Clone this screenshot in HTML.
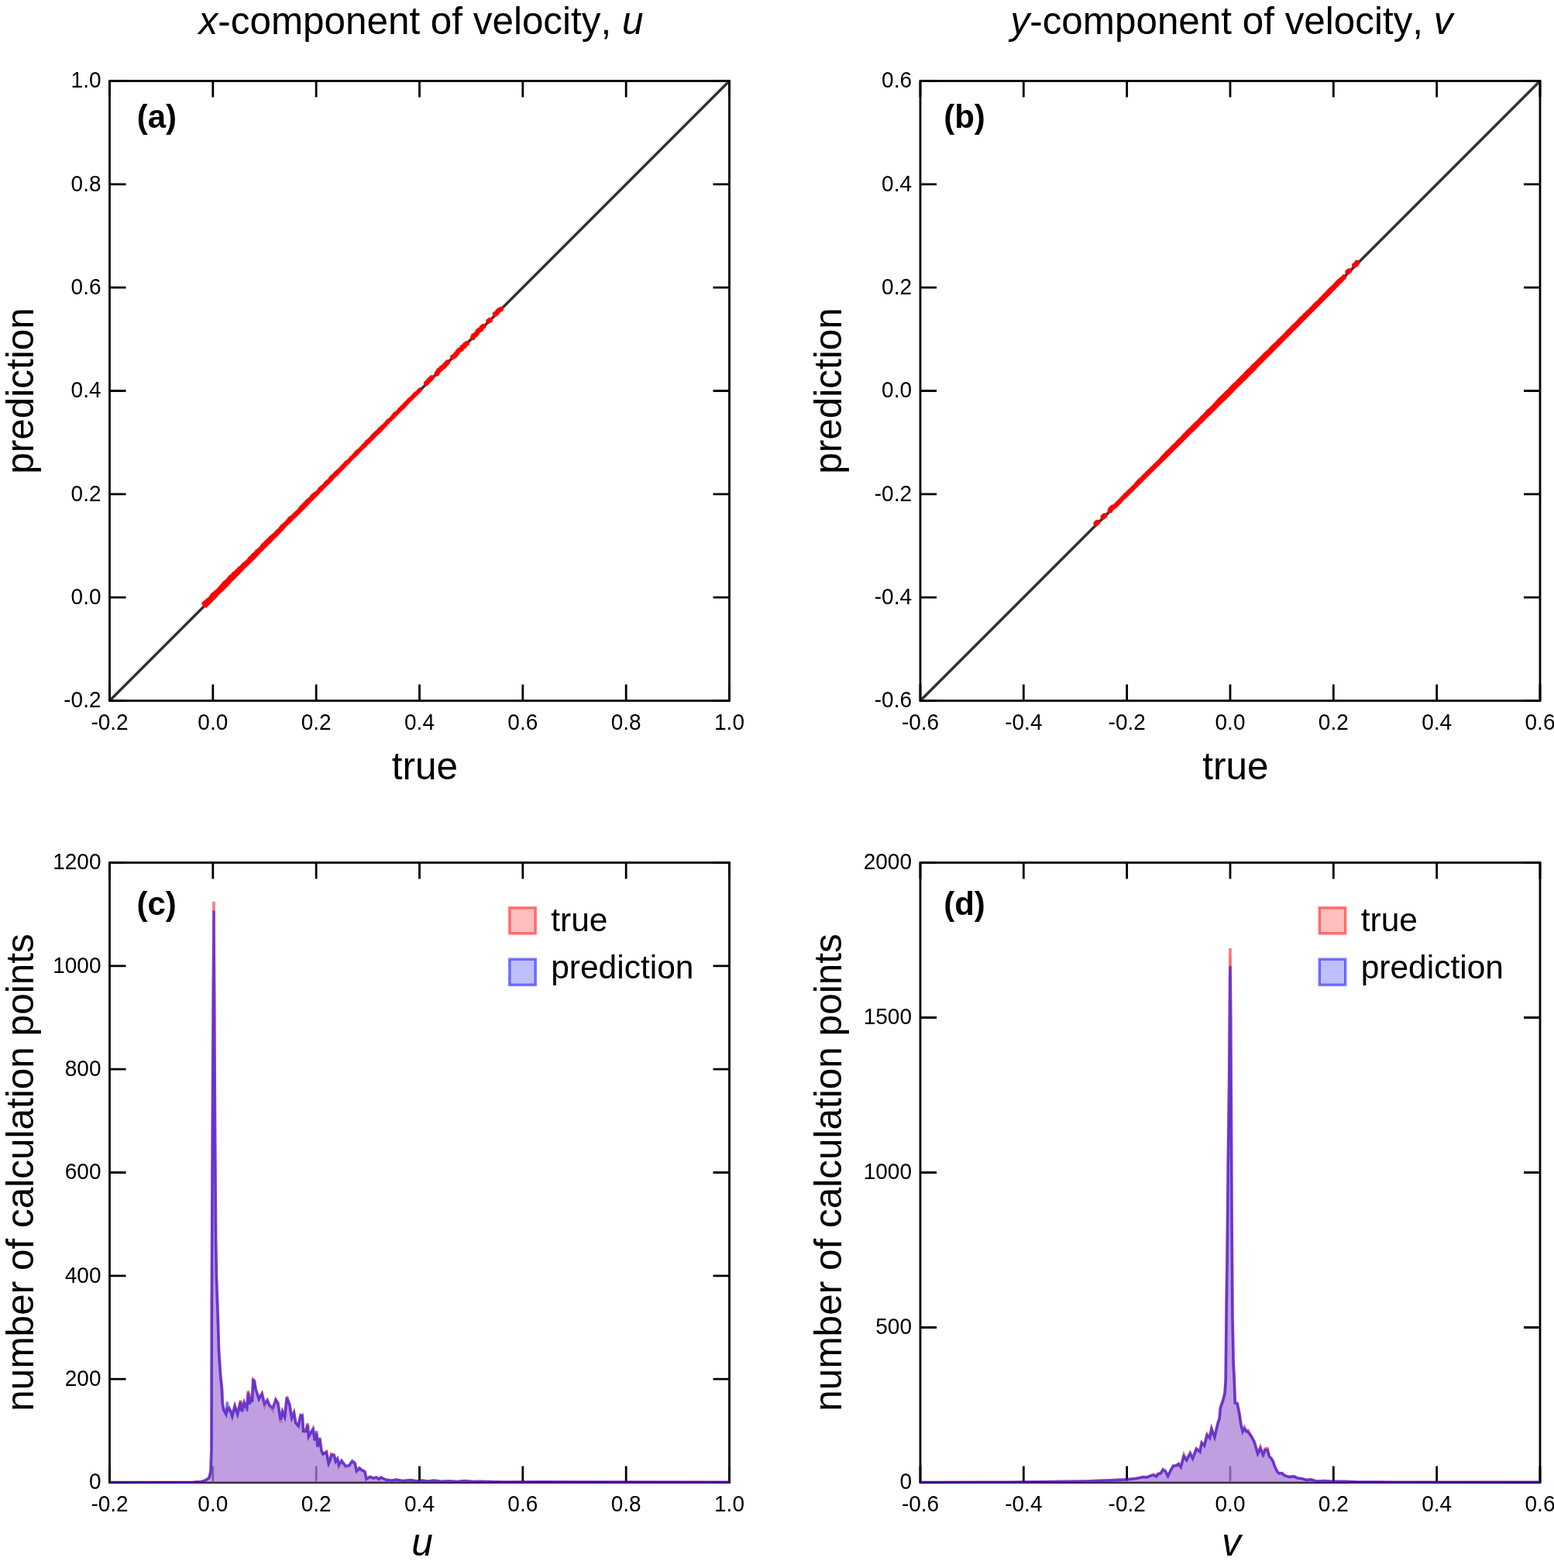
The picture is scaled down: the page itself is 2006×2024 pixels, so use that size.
<!DOCTYPE html><html><head><meta charset="utf-8"><title>velocity</title><style>html,body{margin:0;padding:0;background:#fff;overflow:hidden}svg{display:block;font-kerning:none}</style></head><body>
<svg xmlns="http://www.w3.org/2000/svg" width="2006" height="2024" viewBox="0 0 2006 2024" font-family='"Liberation Sans", Arial, Helvetica, sans-serif'>
<rect width="2006" height="2024" fill="#fff"/>
<text x="543.50" y="44.00" text-anchor="middle" font-size="49.4"><tspan font-style="italic">x</tspan>-component of velocity, <tspan font-style="italic">u</tspan></text>
<text x="1590.00" y="44.00" text-anchor="middle" font-size="49.4"><tspan font-style="italic">y</tspan>-component of velocity, <tspan font-style="italic">v</tspan></text>
<path d="M141.50 904.50V883.50M141.50 104.50V125.50M274.83 904.50V883.50M274.83 104.50V125.50M408.17 904.50V883.50M408.17 104.50V125.50M541.50 904.50V883.50M541.50 104.50V125.50M674.83 904.50V883.50M674.83 104.50V125.50M808.17 904.50V883.50M808.17 104.50V125.50M941.50 904.50V883.50M941.50 104.50V125.50M141.50 904.50H162.50M941.50 904.50H920.50M141.50 771.17H162.50M941.50 771.17H920.50M141.50 637.83H162.50M941.50 637.83H920.50M141.50 504.50H162.50M941.50 504.50H920.50M141.50 371.17H162.50M941.50 371.17H920.50M141.50 237.83H162.50M941.50 237.83H920.50M141.50 104.50H162.50M941.50 104.50H920.50" stroke="#000" stroke-width="2.8" fill="none"/>
<path d="M141.50 904.50L941.50 104.50" stroke="#333" stroke-width="3.5"/>
<path d="M259.98 778.98 L261.18 777.18 L262.79 775.79 L264.57 774.57 L265.94 772.94 L267.73 771.73 L269.41 770.41 L270.61 768.61 L271.73 766.73 L273.23 765.23 L275.07 764.07 L276.52 762.52 L278.23 761.23 L279.96 759.96 L281.32 758.32 L282.69 756.69 L284.12 755.12 L285.61 753.61 L286.74 751.74 L288.14 750.14 L289.93 748.93 L291.63 747.63 L292.94 745.94 L294.27 744.27 L295.59 742.59 L297.64 741.64 L298.86 739.86 L300.15 738.15 L302.14 737.14 L303.47 735.47 L305.33 734.33 L306.46 732.46 L308.32 731.32 L310.05 730.05 L311.22 728.22 L312.69 726.69 L314.42 725.42 L316.11 724.11 L317.74 722.74 L319.25 721.25 L320.25 719.25 L321.91 717.91 L323.57 716.57 L324.74 714.74 L326.55 713.55 L328.17 712.17 L329.36 710.36 L331.01 709.01 L332.74 707.74 L334.28 706.28 L335.72 704.72 L336.79 702.79 L338.30 701.30 L340.08 700.08 L341.25 698.25 L343.01 697.01 L344.33 695.33 L346.10 694.10 L347.30 692.30 L348.93 690.93 L350.78 689.78 L352.35 688.35 L353.89 686.89 L355.18 685.18 L356.85 683.85 L358.53 682.53 L359.80 680.80 L361.13 679.13 L362.33 677.33 L364.26 676.26 L365.74 674.74 L367.41 673.41 L368.74 671.74 L370.29 670.29 L371.40 668.40 L372.87 666.87 L374.73 665.73 L376.53 664.53 L377.75 662.75 L379.55 661.55 L380.92 659.92 L382.45 658.45 L384.14 657.14 L385.31 655.31 L386.62 653.62 L387.97 651.97 L389.68 650.68 L390.94 648.94 L392.62 647.62 L393.93 645.93 L395.49 644.49 L397.05 643.05 L398.94 641.94 L400.05 640.05 L401.50 638.50 L402.96 636.96 L404.65 635.65 L406.50 634.50 L408.25 633.25 L409.59 631.59 L410.86 629.86 L412.27 628.27 L413.97 626.97 L415.55 625.55 L417.18 624.18 L418.27 622.27 L419.85 620.85 L421.47 619.47 L423.14 618.14 L424.33 616.33 L425.59 614.59 L427.15 613.15 L428.99 611.99 L430.23 610.23 L431.65 608.65 L433.40 607.40 L434.94 605.94 L436.62 604.62 L437.96 602.96 L439.57 601.57 L440.68 599.68 L442.57 598.57 L443.76 596.76 L445.19 595.19 L446.92 593.92 L448.76 592.76 L450.17 591.17 L451.36 589.36 L453.15 588.15 L454.49 586.49 L455.89 584.89 L457.22 583.22 L458.70 581.70 L460.33 580.33 L462.23 579.23 L463.49 577.49 L465.15 576.15 L466.46 574.46 L467.90 572.90 L469.52 571.52 L470.74 569.74 L472.06 568.06 L474.00 567.00 L475.43 565.43 L477.06 564.06 L478.29 562.29 L479.59 560.59 L481.17 559.17 L482.67 557.67 L484.23 556.23 L486.06 555.06 L487.23 553.23 L488.84 551.84 L490.55 550.55 L491.82 548.82 L493.71 547.71 L495.12 546.12 L496.61 544.61 L497.89 542.89 L499.27 541.27 L501.01 540.01 L502.79 538.79 L504.20 537.20 L505.43 535.43 L506.70 533.70 L508.06 532.06 L509.97 530.97 L511.67 529.67 L513.06 528.06 L514.35 526.35 L516.09 525.09 L517.37 523.37 L519.18 522.18 L520.34 520.34 L521.91 518.91 L523.48 517.48 L524.98 515.98 L526.23 514.23 L527.97 512.97 L529.50 511.50 L530.94 509.94 L532.50 508.50 L533.76 506.76 L535.58 505.58 L537.38 504.38 L538.58 502.58 L540.14 501.14 L541.87 499.87 L545.56 503.56 L544.03 505.03 L542.65 506.65 L541.02 508.02 L539.56 509.56 L538.10 511.10 L536.42 512.42 L534.90 513.90 L533.56 515.56 L532.08 517.08 L530.44 518.44 L528.87 519.87 L527.53 521.53 L526.02 523.02 L524.67 524.67 L523.25 526.25 L521.68 527.68 L520.04 529.04 L518.60 530.60 L517.10 532.10 L515.61 533.61 L514.01 535.01 L512.45 536.45 L511.11 538.11 L509.64 539.64 L508.07 541.07 L506.44 542.44 L505.05 544.05 L503.36 545.36 L501.89 546.89 L500.51 548.51 L499.22 550.22 L497.66 551.66 L496.23 553.23 L494.91 554.91 L493.38 556.38 L491.90 557.90 L490.33 559.33 L488.74 560.74 L487.20 562.20 L485.58 563.58 L484.22 565.22 L482.80 566.80 L481.24 568.24 L479.78 569.78 L478.15 571.15 L476.68 572.68 L475.08 574.08 L473.78 575.78 L472.19 577.19 L470.58 578.58 L469.02 580.02 L467.51 581.51 L466.09 583.09 L464.55 584.55 L463.15 586.15 L461.80 587.80 L460.13 589.13 L458.50 590.50 L456.91 591.91 L455.47 593.47 L453.98 594.98 L452.60 596.60 L451.24 598.24 L449.60 599.60 L447.98 600.98 L446.58 602.58 L445.26 604.26 L443.82 605.82 L442.19 607.19 L440.67 608.67 L439.18 610.18 L437.76 611.76 L436.47 613.47 L434.86 614.86 L433.24 616.24 L431.74 617.74 L430.33 619.33 L428.94 620.94 L427.33 622.33 L425.91 623.91 L424.41 625.41 L422.77 626.77 L421.18 628.18 L419.80 629.80 L418.21 631.21 L416.94 632.94 L415.30 634.30 L413.80 635.80 L412.45 637.45 L410.99 638.99 L409.47 640.47 L407.89 641.89 L406.40 643.40 L405.01 645.01 L403.43 646.43 L401.92 647.92 L400.42 649.42 L399.04 651.04 L397.62 652.62 L396.13 654.13 L394.61 655.61 L393.16 657.16 L391.61 658.61 L390.15 660.15 L388.59 661.59 L387.19 663.19 L385.60 664.60 L384.10 666.10 L382.63 667.63 L381.01 669.01 L379.33 670.33 L378.02 672.02 L376.52 673.52 L374.97 674.97 L373.25 676.25 L371.80 677.80 L370.26 679.26 L368.86 680.86 L367.40 682.40 L366.01 684.01 L364.63 685.63 L363.00 687.00 L361.65 688.65 L360.10 690.10 L358.76 691.76 L357.21 693.21 L355.71 694.71 L354.04 696.04 L352.75 697.75 L351.31 699.31 L349.71 700.71 L348.05 702.05 L346.69 703.69 L345.07 705.07 L343.75 706.75 L342.12 708.12 L340.63 709.63 L339.15 711.15 L337.60 712.60 L336.02 714.02 L334.66 715.66 L333.25 717.25 L331.93 718.93 L330.30 720.30 L328.79 721.79 L327.40 723.40 L325.80 724.80 L324.18 726.18 L322.76 727.76 L321.32 729.32 L319.77 730.77 L318.14 732.14 L316.58 733.58 L315.12 735.12 L313.75 736.75 L312.36 738.36 L310.74 739.74 L309.28 741.28 L307.87 742.87 L306.31 744.31 L304.83 745.83 L303.32 747.32 L301.95 748.95 L300.30 750.30 L298.80 751.80 L297.29 753.29 L295.95 754.95 L294.61 756.61 L293.11 758.11 L291.44 759.44 L290.06 761.06 L288.54 762.54 L287.00 764.00 L285.34 765.34 L283.77 766.77 L282.27 768.27 L280.88 769.88 L279.59 771.59 L278.10 773.10 L276.40 774.40 L275.11 776.11 L273.50 777.50 L272.12 779.12 L270.53 780.53 L269.04 782.04 L267.52 783.52 L266.04 785.04 Z" fill="#ff0000"/><path d="M261.33 780.60a3.30 3.30 0 1 0 6.60 0a3.30 3.30 0 1 0 -6.60 0M546.93 494.80a3.30 3.30 0 1 0 6.60 0a3.30 3.30 0 1 0 -6.60 0M548.68 492.95a3.30 3.30 0 1 0 6.60 0a3.30 3.30 0 1 0 -6.60 0M550.36 491.02a3.30 3.30 0 1 0 6.60 0a3.30 3.30 0 1 0 -6.60 0M552.33 489.40a3.30 3.30 0 1 0 6.60 0a3.30 3.30 0 1 0 -6.60 0M553.98 487.44a3.30 3.30 0 1 0 6.60 0a3.30 3.30 0 1 0 -6.60 0M560.53 482.40a3.30 3.30 0 1 0 6.60 0a3.30 3.30 0 1 0 -6.60 0M561.96 480.23a3.30 3.30 0 1 0 6.60 0a3.30 3.30 0 1 0 -6.60 0M563.36 478.02a3.30 3.30 0 1 0 6.60 0a3.30 3.30 0 1 0 -6.60 0M565.41 476.47a3.30 3.30 0 1 0 6.60 0a3.30 3.30 0 1 0 -6.60 0M566.99 474.46a3.30 3.30 0 1 0 6.60 0a3.30 3.30 0 1 0 -6.60 0M569.46 473.33a3.30 3.30 0 1 0 6.60 0a3.30 3.30 0 1 0 -6.60 0M570.96 471.23a3.30 3.30 0 1 0 6.60 0a3.30 3.30 0 1 0 -6.60 0M572.95 469.62a3.30 3.30 0 1 0 6.60 0a3.30 3.30 0 1 0 -6.60 0M574.50 467.56a3.30 3.30 0 1 0 6.60 0a3.30 3.30 0 1 0 -6.60 0M581.07 460.94a3.30 3.30 0 1 0 6.60 0a3.30 3.30 0 1 0 -6.60 0M583.35 459.61a3.30 3.30 0 1 0 6.60 0a3.30 3.30 0 1 0 -6.60 0M584.97 457.64a3.30 3.30 0 1 0 6.60 0a3.30 3.30 0 1 0 -6.60 0M586.72 455.79a3.30 3.30 0 1 0 6.60 0a3.30 3.30 0 1 0 -6.60 0M587.98 453.45a3.30 3.30 0 1 0 6.60 0a3.30 3.30 0 1 0 -6.60 0M589.91 451.77a3.30 3.30 0 1 0 6.60 0a3.30 3.30 0 1 0 -6.60 0M592.22 450.49a3.30 3.30 0 1 0 6.60 0a3.30 3.30 0 1 0 -6.60 0M593.48 448.15a3.30 3.30 0 1 0 6.60 0a3.30 3.30 0 1 0 -6.60 0M595.84 446.91a3.30 3.30 0 1 0 6.60 0a3.30 3.30 0 1 0 -6.60 0M597.23 444.70a3.30 3.30 0 1 0 6.60 0a3.30 3.30 0 1 0 -6.60 0M599.45 443.32a3.30 3.30 0 1 0 6.60 0a3.30 3.30 0 1 0 -6.60 0M607.06 435.92a3.30 3.30 0 1 0 6.60 0a3.30 3.30 0 1 0 -6.60 0M608.12 433.39a3.30 3.30 0 1 0 6.60 0a3.30 3.30 0 1 0 -6.60 0M610.48 432.15a3.30 3.30 0 1 0 6.60 0a3.30 3.30 0 1 0 -6.60 0M612.28 430.34a3.30 3.30 0 1 0 6.60 0a3.30 3.30 0 1 0 -6.60 0M613.42 427.89a3.30 3.30 0 1 0 6.60 0a3.30 3.30 0 1 0 -6.60 0M615.32 426.18a3.30 3.30 0 1 0 6.60 0a3.30 3.30 0 1 0 -6.60 0M617.61 424.88a3.30 3.30 0 1 0 6.60 0a3.30 3.30 0 1 0 -6.60 0M618.84 422.51a3.30 3.30 0 1 0 6.60 0a3.30 3.30 0 1 0 -6.60 0M621.00 421.07a3.30 3.30 0 1 0 6.60 0a3.30 3.30 0 1 0 -6.60 0M627.28 414.55a3.30 3.30 0 1 0 6.60 0a3.30 3.30 0 1 0 -6.60 0M629.48 413.15a3.30 3.30 0 1 0 6.60 0a3.30 3.30 0 1 0 -6.60 0M635.76 405.63a3.30 3.30 0 1 0 6.60 0a3.30 3.30 0 1 0 -6.60 0M637.77 404.04a3.30 3.30 0 1 0 6.60 0a3.30 3.30 0 1 0 -6.60 0M639.34 402.00a3.30 3.30 0 1 0 6.60 0a3.30 3.30 0 1 0 -6.60 0M641.20 400.27a3.30 3.30 0 1 0 6.60 0a3.30 3.30 0 1 0 -6.60 0M643.50 398.97a3.30 3.30 0 1 0 6.60 0a3.30 3.30 0 1 0 -6.60 0" fill="#ff0000"/>
<rect x="141.50" y="104.50" width="800.00" height="800.00" fill="none" stroke="#000" stroke-width="2.8"/>
<g font-size="28"><text transform="translate(141.50 942.00) scale(1 1.055)" text-anchor="middle">-0.2</text><text transform="translate(274.83 942.00) scale(1 1.055)" text-anchor="middle">0.0</text><text transform="translate(408.17 942.00) scale(1 1.055)" text-anchor="middle">0.2</text><text transform="translate(541.50 942.00) scale(1 1.055)" text-anchor="middle">0.4</text><text transform="translate(674.83 942.00) scale(1 1.055)" text-anchor="middle">0.6</text><text transform="translate(808.17 942.00) scale(1 1.055)" text-anchor="middle">0.8</text><text transform="translate(941.50 942.00) scale(1 1.055)" text-anchor="middle">1.0</text><text transform="translate(130.50 913.40) scale(1 1.055)" text-anchor="end">-0.2</text><text transform="translate(130.50 780.07) scale(1 1.055)" text-anchor="end">0.0</text><text transform="translate(130.50 646.73) scale(1 1.055)" text-anchor="end">0.2</text><text transform="translate(130.50 513.40) scale(1 1.055)" text-anchor="end">0.4</text><text transform="translate(130.50 380.07) scale(1 1.055)" text-anchor="end">0.6</text><text transform="translate(130.50 246.73) scale(1 1.055)" text-anchor="end">0.8</text><text transform="translate(130.50 113.40) scale(1 1.055)" text-anchor="end">1.0</text></g>
<path d="M1188.00 904.50V883.50M1188.00 104.50V125.50M1321.33 904.50V883.50M1321.33 104.50V125.50M1454.67 904.50V883.50M1454.67 104.50V125.50M1588.00 904.50V883.50M1588.00 104.50V125.50M1721.33 904.50V883.50M1721.33 104.50V125.50M1854.67 904.50V883.50M1854.67 104.50V125.50M1988.00 904.50V883.50M1988.00 104.50V125.50M1188.00 904.50H1209.00M1988.00 904.50H1967.00M1188.00 771.17H1209.00M1988.00 771.17H1967.00M1188.00 637.83H1209.00M1988.00 637.83H1967.00M1188.00 504.50H1209.00M1988.00 504.50H1967.00M1188.00 371.17H1209.00M1988.00 371.17H1967.00M1188.00 237.83H1209.00M1988.00 237.83H1967.00M1188.00 104.50H1209.00M1988.00 104.50H1967.00" stroke="#000" stroke-width="2.8" fill="none"/>
<path d="M1188.00 904.50L1988.00 104.50" stroke="#333" stroke-width="3.5"/>
<path d="M1435.92 652.42 L1437.33 650.83 L1438.91 649.41 L1440.26 647.76 L1441.77 646.27 L1443.45 644.95 L1444.85 643.35 L1446.22 641.72 L1447.84 640.34 L1449.14 638.64 L1450.57 637.07 L1452.31 635.81 L1453.79 634.29 L1455.13 632.63 L1456.80 631.30 L1458.41 629.91 L1459.86 628.36 L1461.37 626.87 L1462.93 625.43 L1464.23 623.73 L1465.64 622.14 L1467.02 620.52 L1468.52 619.02 L1470.08 617.58 L1471.77 616.27 L1473.14 614.64 L1474.53 613.03 L1476.14 611.64 L1477.69 610.19 L1479.03 608.53 L1480.76 607.26 L1482.17 605.67 L1483.68 604.18 L1485.17 602.67 L1486.78 601.28 L1488.22 599.72 L1489.81 598.31 L1491.30 596.80 L1492.80 595.30 L1494.30 593.80 L1495.88 592.38 L1497.19 590.69 L1498.59 589.09 L1499.96 587.46 L1501.55 586.05 L1502.91 584.41 L1504.34 582.84 L1505.97 581.47 L1507.38 579.88 L1509.09 578.59 L1510.48 576.98 L1511.88 575.38 L1513.52 574.02 L1515.04 572.54 L1516.67 571.17 L1517.96 569.46 L1519.38 567.88 L1521.00 566.50 L1522.48 564.98 L1524.12 563.62 L1525.43 561.93 L1526.80 560.30 L1528.37 558.87 L1529.77 557.27 L1531.31 555.81 L1532.75 554.25 L1534.24 552.74 L1535.95 551.45 L1537.37 549.87 L1538.83 548.33 L1540.37 546.87 L1541.71 545.21 L1543.39 543.89 L1545.02 542.52 L1546.55 541.05 L1547.90 539.40 L1549.34 537.84 L1550.81 536.31 L1552.40 534.90 L1553.88 533.38 L1555.31 531.81 L1556.71 530.21 L1558.12 528.62 L1559.82 527.32 L1561.42 525.92 L1562.94 524.44 L1564.42 522.92 L1565.89 521.39 L1567.34 519.84 L1568.63 518.13 L1570.13 516.63 L1571.48 514.98 L1573.01 513.51 L1574.47 511.97 L1576.09 510.59 L1577.58 509.08 L1579.23 507.73 L1580.51 506.01 L1582.10 504.60 L1583.72 503.22 L1585.29 501.79 L1586.62 500.12 L1588.07 498.57 L1589.53 497.03 L1591.05 495.55 L1592.61 494.11 L1594.26 492.76 L1595.79 491.29 L1597.12 489.62 L1598.64 488.14 L1600.18 486.68 L1601.62 485.12 L1603.28 483.78 L1604.73 482.23 L1606.07 480.57 L1607.57 479.07 L1609.06 477.56 L1610.54 476.04 L1612.19 474.69 L1613.73 473.23 L1615.11 471.61 L1616.49 469.99 L1618.14 468.64 L1619.71 467.21 L1621.20 465.70 L1622.78 464.28 L1624.18 462.68 L1625.84 461.34 L1627.24 459.74 L1628.80 458.30 L1630.22 456.72 L1631.59 455.09 L1633.25 453.75 L1634.88 452.38 L1636.44 450.94 L1637.96 449.46 L1639.24 447.74 L1640.79 446.29 L1642.37 444.87 L1643.88 443.38 L1645.46 441.96 L1647.06 440.56 L1648.32 438.82 L1649.99 437.49 L1651.59 436.09 L1652.92 434.42 L1654.56 433.06 L1656.12 431.62 L1657.53 430.03 L1659.01 428.51 L1660.35 426.85 L1661.85 425.35 L1663.47 423.97 L1664.92 422.42 L1666.31 420.81 L1667.70 419.20 L1669.44 417.94 L1671.07 416.57 L1672.43 414.93 L1674.03 413.53 L1675.38 411.88 L1676.86 410.36 L1678.29 408.79 L1679.93 407.43 L1681.50 406.00 L1682.85 404.35 L1684.54 403.04 L1685.95 401.45 L1687.54 400.04 L1689.17 398.67 L1690.53 397.03 L1692.13 395.63 L1693.43 393.93 L1694.99 392.49 L1696.42 390.92 L1698.10 389.60 L1699.67 388.17 L1701.17 386.67 L1702.58 385.08 L1704.00 383.50 L1705.64 382.14 L1707.01 380.51 L1708.48 378.98 L1709.93 377.43 L1711.49 375.99 L1712.88 374.38 L1714.33 372.83 L1715.85 371.35 L1717.52 370.02 L1719.04 368.54 L1720.54 367.04 L1721.94 365.44 L1723.41 363.91 L1724.85 362.35 L1726.40 360.90 L1727.89 359.39 L1729.67 358.17 L1731.30 356.80 L1732.67 355.17 L1734.33 353.83 L1738.67 358.17 L1737.25 359.75 L1735.78 361.28 L1734.27 362.77 L1732.80 364.30 L1731.34 365.84 L1729.80 367.30 L1728.28 368.78 L1726.83 370.33 L1725.32 371.82 L1723.91 373.41 L1722.38 374.88 L1720.86 376.36 L1719.49 377.99 L1717.95 379.45 L1716.52 381.02 L1714.99 382.49 L1713.43 383.93 L1712.03 385.53 L1710.48 386.98 L1708.92 388.42 L1707.40 389.90 L1705.96 391.46 L1704.44 392.94 L1703.06 394.56 L1701.51 396.01 L1700.02 397.52 L1698.48 398.98 L1696.94 400.44 L1695.51 402.01 L1693.96 403.46 L1692.42 404.92 L1690.97 406.47 L1689.51 408.01 L1687.98 409.48 L1686.56 411.06 L1685.03 412.53 L1683.55 414.05 L1682.08 415.58 L1680.59 417.09 L1679.08 418.58 L1677.70 420.20 L1676.20 421.70 L1674.66 423.16 L1673.18 424.68 L1671.63 426.13 L1670.04 427.54 L1668.58 429.08 L1667.08 430.58 L1665.67 432.17 L1664.11 433.61 L1662.69 435.19 L1661.12 436.62 L1659.66 438.16 L1658.15 439.65 L1656.72 441.22 L1655.22 442.72 L1653.76 444.26 L1652.26 445.76 L1650.73 447.23 L1649.13 448.63 L1647.66 450.16 L1646.23 451.73 L1644.71 453.21 L1643.23 454.73 L1641.77 456.27 L1640.28 457.78 L1638.77 459.27 L1637.19 460.69 L1635.72 462.22 L1634.27 463.77 L1632.75 465.25 L1631.34 466.84 L1629.76 468.26 L1628.28 469.78 L1626.66 471.16 L1625.20 472.70 L1623.76 474.26 L1622.29 475.79 L1620.94 477.44 L1619.41 478.91 L1617.95 480.45 L1616.42 481.92 L1614.95 483.45 L1613.43 484.93 L1611.92 486.42 L1610.41 487.91 L1608.89 489.39 L1607.43 490.93 L1605.85 492.35 L1604.35 493.85 L1602.92 495.42 L1601.39 496.89 L1599.84 498.34 L1598.32 499.82 L1596.86 501.36 L1595.36 502.86 L1593.85 504.35 L1592.45 505.95 L1590.98 507.48 L1589.41 508.91 L1588.01 510.51 L1586.43 511.93 L1584.98 513.48 L1583.44 514.94 L1581.94 516.44 L1580.42 517.92 L1578.81 519.31 L1577.26 520.76 L1575.81 522.31 L1574.26 523.76 L1572.77 525.27 L1571.28 526.78 L1569.88 528.38 L1568.36 529.86 L1566.84 531.34 L1565.30 532.80 L1563.82 534.32 L1562.26 535.76 L1560.65 537.15 L1559.21 538.71 L1557.62 540.12 L1556.13 541.63 L1554.65 543.15 L1553.15 544.65 L1551.71 546.21 L1550.12 547.62 L1548.59 549.09 L1547.14 550.64 L1545.73 552.23 L1544.14 553.64 L1542.70 555.20 L1541.14 556.64 L1539.62 558.12 L1537.99 559.49 L1536.55 561.05 L1535.07 562.57 L1533.61 564.11 L1532.11 565.61 L1530.60 567.10 L1529.04 568.54 L1527.62 570.12 L1526.10 571.60 L1524.52 573.02 L1523.03 574.53 L1521.40 575.90 L1519.88 577.38 L1518.39 578.89 L1516.89 580.39 L1515.45 581.95 L1513.95 583.45 L1512.37 584.87 L1510.91 586.41 L1509.47 587.97 L1508.00 589.50 L1506.53 591.03 L1504.97 592.47 L1503.40 593.90 L1501.86 595.36 L1500.38 596.88 L1498.80 598.30 L1497.38 599.88 L1495.88 601.38 L1494.29 602.79 L1492.85 604.35 L1491.35 605.85 L1489.85 607.35 L1488.31 608.81 L1486.82 610.32 L1485.20 611.70 L1483.75 613.25 L1482.26 614.76 L1480.78 616.28 L1479.32 617.82 L1477.74 619.24 L1476.30 620.80 L1474.83 622.33 L1473.31 623.81 L1471.76 625.26 L1470.16 626.66 L1468.67 628.17 L1467.19 629.69 L1465.78 631.28 L1464.30 632.80 L1462.82 634.32 L1461.24 635.74 L1459.66 637.16 L1458.14 638.64 L1456.69 640.19 L1455.22 641.72 L1453.68 643.18 L1452.08 644.58 L1450.61 646.11 L1449.12 647.62 L1447.67 649.17 L1446.18 650.68 L1444.74 652.24 L1443.26 653.76 L1441.71 655.21 L1440.22 656.72 Z" fill="#ff0000"/><path d="M1411.44 675.97a3.40 3.40 0 1 0 6.80 0a3.40 3.40 0 1 0 -6.80 0M1413.22 674.15a3.40 3.40 0 1 0 6.80 0a3.40 3.40 0 1 0 -6.80 0M1420.56 667.29a3.40 3.40 0 1 0 6.80 0a3.40 3.40 0 1 0 -6.80 0M1422.52 665.65a3.40 3.40 0 1 0 6.80 0a3.40 3.40 0 1 0 -6.80 0M1429.60 658.93a3.40 3.40 0 1 0 6.80 0a3.40 3.40 0 1 0 -6.80 0M1430.93 656.66a3.40 3.40 0 1 0 6.80 0a3.40 3.40 0 1 0 -6.80 0M1432.87 655.00a3.40 3.40 0 1 0 6.80 0a3.40 3.40 0 1 0 -6.80 0M1736.36 351.10a3.40 3.40 0 1 0 6.80 0a3.40 3.40 0 1 0 -6.80 0M1738.44 349.57a3.40 3.40 0 1 0 6.80 0a3.40 3.40 0 1 0 -6.80 0M1744.86 342.59a3.40 3.40 0 1 0 6.80 0a3.40 3.40 0 1 0 -6.80 0M1747.01 341.14a3.40 3.40 0 1 0 6.80 0a3.40 3.40 0 1 0 -6.80 0M1748.43 338.97a3.40 3.40 0 1 0 6.80 0a3.40 3.40 0 1 0 -6.80 0" fill="#ff0000"/>
<rect x="1188.00" y="104.50" width="800.00" height="800.00" fill="none" stroke="#000" stroke-width="2.8"/>
<g font-size="28"><text transform="translate(1188.00 942.00) scale(1 1.055)" text-anchor="middle">-0.6</text><text transform="translate(1321.33 942.00) scale(1 1.055)" text-anchor="middle">-0.4</text><text transform="translate(1454.67 942.00) scale(1 1.055)" text-anchor="middle">-0.2</text><text transform="translate(1588.00 942.00) scale(1 1.055)" text-anchor="middle">0.0</text><text transform="translate(1721.33 942.00) scale(1 1.055)" text-anchor="middle">0.2</text><text transform="translate(1854.67 942.00) scale(1 1.055)" text-anchor="middle">0.4</text><text transform="translate(1988.00 942.00) scale(1 1.055)" text-anchor="middle">0.6</text><text transform="translate(1177.00 913.40) scale(1 1.055)" text-anchor="end">-0.6</text><text transform="translate(1177.00 780.07) scale(1 1.055)" text-anchor="end">-0.4</text><text transform="translate(1177.00 646.73) scale(1 1.055)" text-anchor="end">-0.2</text><text transform="translate(1177.00 513.40) scale(1 1.055)" text-anchor="end">0.0</text><text transform="translate(1177.00 380.07) scale(1 1.055)" text-anchor="end">0.2</text><text transform="translate(1177.00 246.73) scale(1 1.055)" text-anchor="end">0.4</text><text transform="translate(1177.00 113.40) scale(1 1.055)" text-anchor="end">0.6</text></g>
<path d="M141.50 1913.50V1892.50M141.50 1113.50V1134.50M274.83 1913.50V1892.50M274.83 1113.50V1134.50M408.17 1913.50V1892.50M408.17 1113.50V1134.50M541.50 1913.50V1892.50M541.50 1113.50V1134.50M674.83 1913.50V1892.50M674.83 1113.50V1134.50M808.17 1913.50V1892.50M808.17 1113.50V1134.50M941.50 1913.50V1892.50M941.50 1113.50V1134.50M141.50 1913.50H162.50M941.50 1913.50H920.50M141.50 1780.17H162.50M941.50 1780.17H920.50M141.50 1646.83H162.50M941.50 1646.83H920.50M141.50 1513.50H162.50M941.50 1513.50H920.50M141.50 1380.17H162.50M941.50 1380.17H920.50M141.50 1246.83H162.50M941.50 1246.83H920.50M141.50 1113.50H162.50M941.50 1113.50H920.50" stroke="#000" stroke-width="2.8" fill="none"/>
<rect x="141.50" y="1113.50" width="800.00" height="800.00" fill="none" stroke="#000" stroke-width="2.8"/>
<path d="M141.50 1913.50 L250.00 1913.30 L260.00 1912.50 L265.00 1911.00 L270.00 1907.50 L272.00 1898.83 L273.00 1869.07 L273.30 1700.00 L273.80 1560.00 L274.60 1400.00 L275.30 1280.00 L275.80 1208.00 L276.00 1163.70 L276.20 1208.00 L276.70 1300.00 L277.50 1450.00 L278.60 1600.00 L279.50 1650.00 L281.20 1698.00 L282.60 1745.00 L283.60 1760.00 L284.80 1776.94 L286.50 1791.00 L287.30 1812.14 L288.80 1819.43 L291.70 1824.57 L293.40 1817.00 L294.00 1819.66 L295.70 1818.02 L297.70 1821.15 L299.70 1828.38 L303.10 1814.99 L306.60 1824.63 L310.60 1807.50 L312.30 1822.09 L315.20 1810.37 L318.70 1821.50 L320.40 1795.00 L322.10 1812.59 L323.80 1804.29 L325.50 1809.02 L326.70 1780.50 L328.40 1781.85 L330.10 1793.76 L332.40 1799.97 L334.20 1805.28 L338.20 1798.69 L341.60 1815.10 L345.10 1807.38 L348.00 1815.09 L352.00 1820.30 L356.00 1806.40 L358.90 1811.02 L362.30 1836.40 L364.60 1822.20 L367.50 1829.01 L370.30 1802.50 L373.80 1813.89 L376.70 1830.91 L379.50 1823.45 L381.70 1836.09 L385.20 1841.11 L388.00 1827.67 L390.30 1826.47 L391.50 1847.76 L394.40 1848.08 L397.20 1837.00 L398.40 1854.46 L401.30 1848.82 L404.10 1845.01 L406.40 1859.75 L408.70 1850.00 L409.90 1866.00 L412.70 1855.67 L415.00 1872.74 L416.80 1876.33 L421.40 1873.60 L424.20 1888.71 L426.00 1884.70 L427.70 1876.50 L431.10 1877.95 L433.40 1886.55 L435.70 1883.61 L437.40 1892.50 L440.90 1886.21 L446.10 1893.50 L450.70 1892.54 L454.70 1886.78 L458.10 1889.20 L460.40 1898.44 L463.90 1894.62 L467.30 1898.00 L470.80 1899.51 L473.10 1909.20 L477.60 1906.30 L482.20 1908.10 L485.70 1906.90 L489.10 1909.20 L491.80 1907.00 L498.00 1910.00 L505.40 1911.00 L512.00 1910.00 L520.00 1911.50 L530.00 1910.50 L538.00 1911.80 L545.00 1911.00 L552.00 1912.00 L560.00 1911.00 L570.00 1912.30 L580.00 1911.80 L590.00 1912.50 L600.00 1911.50 L610.00 1912.60 L620.00 1912.30 L650.00 1913.00 L700.00 1912.80 L800.00 1913.10 L941.50 1913.30 L941.50 1913.50 L141.50 1913.50 Z" fill="#ff8080" fill-opacity="0.5" stroke="none"/>
<path d="M141.50 1913.50 L250.00 1913.30 L260.00 1912.50 L265.00 1911.00 L270.00 1907.50 L272.00 1898.83 L273.00 1869.07 L273.30 1700.00 L273.80 1560.00 L274.60 1400.00 L275.30 1280.00 L275.80 1208.00 L276.00 1163.70 L276.20 1208.00 L276.70 1300.00 L277.50 1450.00 L278.60 1600.00 L279.50 1650.00 L281.20 1698.00 L282.60 1745.00 L283.60 1760.00 L284.80 1776.94 L286.50 1791.00 L287.30 1812.14 L288.80 1819.43 L291.70 1824.57 L293.40 1817.00 L294.00 1819.66 L295.70 1818.02 L297.70 1821.15 L299.70 1828.38 L303.10 1814.99 L306.60 1824.63 L310.60 1807.50 L312.30 1822.09 L315.20 1810.37 L318.70 1821.50 L320.40 1795.00 L322.10 1812.59 L323.80 1804.29 L325.50 1809.02 L326.70 1780.50 L328.40 1781.85 L330.10 1793.76 L332.40 1799.97 L334.20 1805.28 L338.20 1798.69 L341.60 1815.10 L345.10 1807.38 L348.00 1815.09 L352.00 1820.30 L356.00 1806.40 L358.90 1811.02 L362.30 1836.40 L364.60 1822.20 L367.50 1829.01 L370.30 1802.50 L373.80 1813.89 L376.70 1830.91 L379.50 1823.45 L381.70 1836.09 L385.20 1841.11 L388.00 1827.67 L390.30 1826.47 L391.50 1847.76 L394.40 1848.08 L397.20 1837.00 L398.40 1854.46 L401.30 1848.82 L404.10 1845.01 L406.40 1859.75 L408.70 1850.00 L409.90 1866.00 L412.70 1855.67 L415.00 1872.74 L416.80 1876.33 L421.40 1873.60 L424.20 1888.71 L426.00 1884.70 L427.70 1876.50 L431.10 1877.95 L433.40 1886.55 L435.70 1883.61 L437.40 1892.50 L440.90 1886.21 L446.10 1893.50 L450.70 1892.54 L454.70 1886.78 L458.10 1889.20 L460.40 1898.44 L463.90 1894.62 L467.30 1898.00 L470.80 1899.51 L473.10 1909.20 L477.60 1906.30 L482.20 1908.10 L485.70 1906.90 L489.10 1909.20 L491.80 1907.00 L498.00 1910.00 L505.40 1911.00 L512.00 1910.00 L520.00 1911.50 L530.00 1910.50 L538.00 1911.80 L545.00 1911.00 L552.00 1912.00 L560.00 1911.00 L570.00 1912.30 L580.00 1911.80 L590.00 1912.50 L600.00 1911.50 L610.00 1912.60 L620.00 1912.30 L650.00 1913.00 L700.00 1912.80 L800.00 1913.10 L941.50 1913.30" fill="none" stroke="#ff0000" stroke-opacity="0.52" stroke-width="3.6"/>
<path d="M141.50 1913.50 L250.00 1913.30 L260.00 1912.50 L265.00 1911.00 L270.00 1907.50 L272.00 1900.00 L273.00 1870.00 L273.30 1700.00 L273.80 1560.00 L274.60 1400.00 L275.30 1280.00 L275.80 1220.00 L276.00 1175.60 L276.20 1220.00 L276.70 1300.00 L277.50 1450.00 L278.60 1600.00 L279.50 1650.00 L281.20 1698.00 L282.60 1745.00 L283.60 1760.00 L284.80 1777.20 L286.50 1794.50 L287.30 1811.70 L288.80 1820.30 L291.70 1825.50 L293.40 1809.40 L294.00 1820.30 L295.70 1817.40 L297.70 1822.00 L299.70 1827.80 L303.10 1814.60 L306.60 1825.50 L310.60 1809.40 L312.30 1822.00 L315.20 1810.50 L318.70 1816.90 L320.40 1797.30 L322.10 1812.80 L323.80 1803.10 L325.50 1810.00 L326.70 1781.80 L328.40 1783.00 L330.10 1792.70 L332.40 1800.20 L334.20 1806.00 L338.20 1799.10 L341.60 1811.70 L345.10 1807.70 L348.00 1814.00 L352.00 1816.90 L356.00 1807.10 L358.90 1811.70 L362.30 1832.40 L364.60 1822.00 L367.50 1828.90 L370.30 1804.20 L373.80 1812.80 L376.70 1830.10 L379.50 1823.80 L381.70 1836.80 L385.20 1840.30 L388.00 1826.50 L390.30 1827.60 L391.50 1847.20 L394.40 1847.20 L397.20 1839.10 L398.40 1854.10 L401.30 1849.50 L404.10 1844.30 L406.40 1859.20 L408.70 1847.20 L409.90 1867.80 L412.70 1856.40 L415.00 1872.40 L416.80 1877.00 L421.40 1874.70 L424.20 1889.10 L426.00 1885.10 L427.70 1878.20 L431.10 1878.20 L433.40 1886.20 L435.70 1882.80 L437.40 1890.80 L440.90 1885.10 L446.10 1892.00 L450.70 1891.40 L454.70 1885.60 L458.10 1888.50 L460.40 1898.90 L463.90 1895.40 L467.30 1897.70 L470.80 1899.40 L473.10 1909.20 L477.60 1906.30 L482.20 1908.10 L485.70 1906.90 L489.10 1909.20 L491.80 1907.00 L498.00 1910.00 L505.40 1911.00 L512.00 1910.00 L520.00 1911.50 L530.00 1910.50 L538.00 1911.80 L545.00 1911.00 L552.00 1912.00 L560.00 1911.00 L570.00 1912.30 L580.00 1911.80 L590.00 1912.50 L600.00 1911.50 L610.00 1912.60 L620.00 1912.30 L650.00 1913.00 L700.00 1912.80 L800.00 1913.10 L941.50 1913.30 L941.50 1913.50 L141.50 1913.50 Z" fill="#8080ff" fill-opacity="0.5" stroke="none"/>
<path d="M141.50 1913.50 L250.00 1913.30 L260.00 1912.50 L265.00 1911.00 L270.00 1907.50 L272.00 1900.00 L273.00 1870.00 L273.30 1700.00 L273.80 1560.00 L274.60 1400.00 L275.30 1280.00 L275.80 1220.00 L276.00 1175.60 L276.20 1220.00 L276.70 1300.00 L277.50 1450.00 L278.60 1600.00 L279.50 1650.00 L281.20 1698.00 L282.60 1745.00 L283.60 1760.00 L284.80 1777.20 L286.50 1794.50 L287.30 1811.70 L288.80 1820.30 L291.70 1825.50 L293.40 1809.40 L294.00 1820.30 L295.70 1817.40 L297.70 1822.00 L299.70 1827.80 L303.10 1814.60 L306.60 1825.50 L310.60 1809.40 L312.30 1822.00 L315.20 1810.50 L318.70 1816.90 L320.40 1797.30 L322.10 1812.80 L323.80 1803.10 L325.50 1810.00 L326.70 1781.80 L328.40 1783.00 L330.10 1792.70 L332.40 1800.20 L334.20 1806.00 L338.20 1799.10 L341.60 1811.70 L345.10 1807.70 L348.00 1814.00 L352.00 1816.90 L356.00 1807.10 L358.90 1811.70 L362.30 1832.40 L364.60 1822.00 L367.50 1828.90 L370.30 1804.20 L373.80 1812.80 L376.70 1830.10 L379.50 1823.80 L381.70 1836.80 L385.20 1840.30 L388.00 1826.50 L390.30 1827.60 L391.50 1847.20 L394.40 1847.20 L397.20 1839.10 L398.40 1854.10 L401.30 1849.50 L404.10 1844.30 L406.40 1859.20 L408.70 1847.20 L409.90 1867.80 L412.70 1856.40 L415.00 1872.40 L416.80 1877.00 L421.40 1874.70 L424.20 1889.10 L426.00 1885.10 L427.70 1878.20 L431.10 1878.20 L433.40 1886.20 L435.70 1882.80 L437.40 1890.80 L440.90 1885.10 L446.10 1892.00 L450.70 1891.40 L454.70 1885.60 L458.10 1888.50 L460.40 1898.90 L463.90 1895.40 L467.30 1897.70 L470.80 1899.40 L473.10 1909.20 L477.60 1906.30 L482.20 1908.10 L485.70 1906.90 L489.10 1909.20 L491.80 1907.00 L498.00 1910.00 L505.40 1911.00 L512.00 1910.00 L520.00 1911.50 L530.00 1910.50 L538.00 1911.80 L545.00 1911.00 L552.00 1912.00 L560.00 1911.00 L570.00 1912.30 L580.00 1911.80 L590.00 1912.50 L600.00 1911.50 L610.00 1912.60 L620.00 1912.30 L650.00 1913.00 L700.00 1912.80 L800.00 1913.10 L941.50 1913.30" fill="none" stroke="#0000ff" stroke-opacity="0.52" stroke-width="3.6"/>
<g font-size="28"><text transform="translate(141.50 1951.00) scale(1 1.055)" text-anchor="middle">-0.2</text><text transform="translate(274.83 1951.00) scale(1 1.055)" text-anchor="middle">0.0</text><text transform="translate(408.17 1951.00) scale(1 1.055)" text-anchor="middle">0.2</text><text transform="translate(541.50 1951.00) scale(1 1.055)" text-anchor="middle">0.4</text><text transform="translate(674.83 1951.00) scale(1 1.055)" text-anchor="middle">0.6</text><text transform="translate(808.17 1951.00) scale(1 1.055)" text-anchor="middle">0.8</text><text transform="translate(941.50 1951.00) scale(1 1.055)" text-anchor="middle">1.0</text><text transform="translate(130.50 1922.40) scale(1 1.055)" text-anchor="end">0</text><text transform="translate(130.50 1789.07) scale(1 1.055)" text-anchor="end">200</text><text transform="translate(130.50 1655.73) scale(1 1.055)" text-anchor="end">400</text><text transform="translate(130.50 1522.40) scale(1 1.055)" text-anchor="end">600</text><text transform="translate(130.50 1389.07) scale(1 1.055)" text-anchor="end">800</text><text transform="translate(130.50 1255.73) scale(1 1.055)" text-anchor="end">1000</text><text transform="translate(130.50 1122.40) scale(1 1.055)" text-anchor="end">1200</text></g>
<rect x="657.75" y="1171.75" width="33.5" height="33.2" fill="#ff8080" fill-opacity="0.5" stroke="#ff0000" stroke-opacity="0.5" stroke-width="3.5"/>
<text x="711.20" y="1202.30" font-size="42.5">true</text>
<rect x="657.75" y="1238.15" width="33.5" height="33.2" fill="#8080ff" fill-opacity="0.5" stroke="#0000ff" stroke-opacity="0.5" stroke-width="3.5"/>
<text x="711.20" y="1262.90" font-size="42.5">prediction</text>
<path d="M1188.00 1913.50V1892.50M1188.00 1113.50V1134.50M1321.33 1913.50V1892.50M1321.33 1113.50V1134.50M1454.67 1913.50V1892.50M1454.67 1113.50V1134.50M1588.00 1913.50V1892.50M1588.00 1113.50V1134.50M1721.33 1913.50V1892.50M1721.33 1113.50V1134.50M1854.67 1913.50V1892.50M1854.67 1113.50V1134.50M1988.00 1913.50V1892.50M1988.00 1113.50V1134.50M1188.00 1913.50H1209.00M1988.00 1913.50H1967.00M1188.00 1713.50H1209.00M1988.00 1713.50H1967.00M1188.00 1513.50H1209.00M1988.00 1513.50H1967.00M1188.00 1313.50H1209.00M1988.00 1313.50H1967.00M1188.00 1113.50H1209.00M1988.00 1113.50H1967.00" stroke="#000" stroke-width="2.8" fill="none"/>
<rect x="1188.00" y="1113.50" width="800.00" height="800.00" fill="none" stroke="#000" stroke-width="2.8"/>
<path d="M1188.00 1913.50 L1300.00 1913.20 L1400.00 1912.00 L1432.60 1910.90 L1454.30 1909.80 L1466.00 1908.50 L1476.00 1906.50 L1480.00 1906.90 L1484.60 1905.20 L1489.20 1903.09 L1492.60 1905.80 L1494.90 1902.21 L1498.40 1901.33 L1501.30 1897.50 L1504.10 1899.26 L1507.60 1905.20 L1511.00 1898.29 L1514.50 1892.53 L1519.10 1891.04 L1521.40 1889.72 L1524.20 1894.02 L1528.20 1877.50 L1531.70 1884.55 L1536.30 1876.37 L1539.70 1883.12 L1544.30 1869.89 L1548.90 1873.00 L1551.20 1862.71 L1554.70 1865.30 L1558.10 1851.22 L1561.60 1856.35 L1563.90 1844.62 L1567.90 1855.51 L1571.90 1836.30 L1574.20 1831.59 L1575.30 1817.18 L1578.80 1806.60 L1581.10 1797.49 L1582.20 1781.15 L1583.00 1700.00 L1584.30 1600.00 L1585.30 1500.00 L1586.60 1400.00 L1587.40 1300.00 L1587.80 1238.00 L1588.00 1224.10 L1588.20 1238.00 L1588.60 1300.00 L1589.20 1400.00 L1590.00 1560.00 L1591.00 1700.00 L1592.20 1760.00 L1593.20 1779.07 L1594.30 1810.18 L1597.20 1811.05 L1600.00 1824.92 L1601.80 1837.49 L1604.10 1847.45 L1606.40 1844.50 L1608.70 1846.99 L1611.00 1846.00 L1615.60 1854.24 L1619.00 1861.43 L1623.60 1875.70 L1627.00 1867.50 L1630.50 1880.50 L1632.80 1870.00 L1636.20 1869.50 L1638.50 1880.65 L1640.80 1882.77 L1643.10 1885.86 L1645.40 1892.78 L1648.90 1900.15 L1651.20 1902.01 L1654.60 1901.15 L1658.10 1904.19 L1663.80 1906.40 L1670.70 1905.80 L1675.30 1908.10 L1681.00 1908.70 L1686.80 1910.40 L1692.50 1909.80 L1700.00 1912.10 L1710.00 1911.60 L1720.00 1912.40 L1735.00 1912.20 L1750.00 1912.90 L1800.00 1913.30 L1988.00 1913.40 L1988.00 1913.50 L1188.00 1913.50 Z" fill="#ff8080" fill-opacity="0.5" stroke="none"/>
<path d="M1188.00 1913.50 L1300.00 1913.20 L1400.00 1912.00 L1432.60 1910.90 L1454.30 1909.80 L1466.00 1908.50 L1476.00 1906.50 L1480.00 1906.90 L1484.60 1905.20 L1489.20 1903.09 L1492.60 1905.80 L1494.90 1902.21 L1498.40 1901.33 L1501.30 1897.50 L1504.10 1899.26 L1507.60 1905.20 L1511.00 1898.29 L1514.50 1892.53 L1519.10 1891.04 L1521.40 1889.72 L1524.20 1894.02 L1528.20 1877.50 L1531.70 1884.55 L1536.30 1876.37 L1539.70 1883.12 L1544.30 1869.89 L1548.90 1873.00 L1551.20 1862.71 L1554.70 1865.30 L1558.10 1851.22 L1561.60 1856.35 L1563.90 1844.62 L1567.90 1855.51 L1571.90 1836.30 L1574.20 1831.59 L1575.30 1817.18 L1578.80 1806.60 L1581.10 1797.49 L1582.20 1781.15 L1583.00 1700.00 L1584.30 1600.00 L1585.30 1500.00 L1586.60 1400.00 L1587.40 1300.00 L1587.80 1238.00 L1588.00 1224.10 L1588.20 1238.00 L1588.60 1300.00 L1589.20 1400.00 L1590.00 1560.00 L1591.00 1700.00 L1592.20 1760.00 L1593.20 1779.07 L1594.30 1810.18 L1597.20 1811.05 L1600.00 1824.92 L1601.80 1837.49 L1604.10 1847.45 L1606.40 1844.50 L1608.70 1846.99 L1611.00 1846.00 L1615.60 1854.24 L1619.00 1861.43 L1623.60 1875.70 L1627.00 1867.50 L1630.50 1880.50 L1632.80 1870.00 L1636.20 1869.50 L1638.50 1880.65 L1640.80 1882.77 L1643.10 1885.86 L1645.40 1892.78 L1648.90 1900.15 L1651.20 1902.01 L1654.60 1901.15 L1658.10 1904.19 L1663.80 1906.40 L1670.70 1905.80 L1675.30 1908.10 L1681.00 1908.70 L1686.80 1910.40 L1692.50 1909.80 L1700.00 1912.10 L1710.00 1911.60 L1720.00 1912.40 L1735.00 1912.20 L1750.00 1912.90 L1800.00 1913.30 L1988.00 1913.40" fill="none" stroke="#ff0000" stroke-opacity="0.52" stroke-width="3.6"/>
<path d="M1188.00 1913.50 L1300.00 1913.20 L1400.00 1912.00 L1432.60 1910.90 L1454.30 1909.80 L1466.00 1908.50 L1476.00 1906.50 L1480.00 1906.90 L1484.60 1905.20 L1489.20 1904.10 L1492.60 1905.80 L1494.90 1902.90 L1498.40 1901.80 L1501.30 1896.60 L1504.10 1898.30 L1507.60 1905.20 L1511.00 1898.30 L1514.50 1892.00 L1519.10 1892.00 L1521.40 1889.70 L1524.20 1893.20 L1528.20 1879.90 L1531.70 1884.50 L1536.30 1875.30 L1539.70 1882.20 L1544.30 1870.20 L1548.90 1874.20 L1551.20 1862.10 L1554.70 1866.20 L1558.10 1852.40 L1561.60 1855.80 L1563.90 1843.80 L1567.90 1854.70 L1571.90 1838.60 L1574.20 1830.50 L1575.30 1817.90 L1578.80 1807.60 L1581.10 1798.40 L1582.20 1780.00 L1583.00 1700.00 L1584.30 1600.00 L1585.30 1500.00 L1586.60 1400.00 L1587.40 1300.00 L1587.80 1260.00 L1588.00 1247.40 L1588.20 1260.00 L1588.60 1300.00 L1589.20 1400.00 L1590.00 1560.00 L1591.00 1700.00 L1592.20 1760.00 L1593.20 1780.00 L1594.30 1811.00 L1597.20 1812.20 L1600.00 1826.00 L1601.80 1838.60 L1604.10 1847.80 L1606.40 1842.60 L1608.70 1847.80 L1611.00 1848.40 L1615.60 1854.70 L1619.00 1860.40 L1623.60 1876.50 L1627.00 1869.60 L1630.50 1877.60 L1632.80 1871.90 L1636.20 1871.90 L1638.50 1879.90 L1640.80 1882.20 L1643.10 1885.70 L1645.40 1892.60 L1648.90 1899.50 L1651.20 1901.80 L1654.60 1901.80 L1658.10 1904.60 L1663.80 1906.40 L1670.70 1905.80 L1675.30 1908.10 L1681.00 1908.70 L1686.80 1910.40 L1692.50 1909.80 L1700.00 1912.10 L1710.00 1911.60 L1720.00 1912.40 L1735.00 1912.20 L1750.00 1912.90 L1800.00 1913.30 L1988.00 1913.40 L1988.00 1913.50 L1188.00 1913.50 Z" fill="#8080ff" fill-opacity="0.5" stroke="none"/>
<path d="M1188.00 1913.50 L1300.00 1913.20 L1400.00 1912.00 L1432.60 1910.90 L1454.30 1909.80 L1466.00 1908.50 L1476.00 1906.50 L1480.00 1906.90 L1484.60 1905.20 L1489.20 1904.10 L1492.60 1905.80 L1494.90 1902.90 L1498.40 1901.80 L1501.30 1896.60 L1504.10 1898.30 L1507.60 1905.20 L1511.00 1898.30 L1514.50 1892.00 L1519.10 1892.00 L1521.40 1889.70 L1524.20 1893.20 L1528.20 1879.90 L1531.70 1884.50 L1536.30 1875.30 L1539.70 1882.20 L1544.30 1870.20 L1548.90 1874.20 L1551.20 1862.10 L1554.70 1866.20 L1558.10 1852.40 L1561.60 1855.80 L1563.90 1843.80 L1567.90 1854.70 L1571.90 1838.60 L1574.20 1830.50 L1575.30 1817.90 L1578.80 1807.60 L1581.10 1798.40 L1582.20 1780.00 L1583.00 1700.00 L1584.30 1600.00 L1585.30 1500.00 L1586.60 1400.00 L1587.40 1300.00 L1587.80 1260.00 L1588.00 1247.40 L1588.20 1260.00 L1588.60 1300.00 L1589.20 1400.00 L1590.00 1560.00 L1591.00 1700.00 L1592.20 1760.00 L1593.20 1780.00 L1594.30 1811.00 L1597.20 1812.20 L1600.00 1826.00 L1601.80 1838.60 L1604.10 1847.80 L1606.40 1842.60 L1608.70 1847.80 L1611.00 1848.40 L1615.60 1854.70 L1619.00 1860.40 L1623.60 1876.50 L1627.00 1869.60 L1630.50 1877.60 L1632.80 1871.90 L1636.20 1871.90 L1638.50 1879.90 L1640.80 1882.20 L1643.10 1885.70 L1645.40 1892.60 L1648.90 1899.50 L1651.20 1901.80 L1654.60 1901.80 L1658.10 1904.60 L1663.80 1906.40 L1670.70 1905.80 L1675.30 1908.10 L1681.00 1908.70 L1686.80 1910.40 L1692.50 1909.80 L1700.00 1912.10 L1710.00 1911.60 L1720.00 1912.40 L1735.00 1912.20 L1750.00 1912.90 L1800.00 1913.30 L1988.00 1913.40" fill="none" stroke="#0000ff" stroke-opacity="0.52" stroke-width="3.6"/>
<g font-size="28"><text transform="translate(1188.00 1951.00) scale(1 1.055)" text-anchor="middle">-0.6</text><text transform="translate(1321.33 1951.00) scale(1 1.055)" text-anchor="middle">-0.4</text><text transform="translate(1454.67 1951.00) scale(1 1.055)" text-anchor="middle">-0.2</text><text transform="translate(1588.00 1951.00) scale(1 1.055)" text-anchor="middle">0.0</text><text transform="translate(1721.33 1951.00) scale(1 1.055)" text-anchor="middle">0.2</text><text transform="translate(1854.67 1951.00) scale(1 1.055)" text-anchor="middle">0.4</text><text transform="translate(1988.00 1951.00) scale(1 1.055)" text-anchor="middle">0.6</text><text transform="translate(1177.00 1922.40) scale(1 1.055)" text-anchor="end">0</text><text transform="translate(1177.00 1722.40) scale(1 1.055)" text-anchor="end">500</text><text transform="translate(1177.00 1522.40) scale(1 1.055)" text-anchor="end">1000</text><text transform="translate(1177.00 1322.40) scale(1 1.055)" text-anchor="end">1500</text><text transform="translate(1177.00 1122.40) scale(1 1.055)" text-anchor="end">2000</text></g>
<rect x="1703.25" y="1171.75" width="33.5" height="33.2" fill="#ff8080" fill-opacity="0.5" stroke="#ff0000" stroke-opacity="0.5" stroke-width="3.5"/>
<text x="1756.70" y="1202.30" font-size="42.5">true</text>
<rect x="1703.25" y="1238.15" width="33.5" height="33.2" fill="#8080ff" fill-opacity="0.5" stroke="#0000ff" stroke-opacity="0.5" stroke-width="3.5"/>
<text x="1756.70" y="1262.90" font-size="42.5">prediction</text>
<text x="176.70" y="164.70" font-size="42" font-weight="bold">(a)</text>
<text x="1218.20" y="164.50" font-size="42" font-weight="bold">(b)</text>
<text x="176.50" y="1180.50" font-size="42" font-weight="bold">(c)</text>
<text x="1218.20" y="1180.50" font-size="42" font-weight="bold">(d)</text>
<text x="548.50" y="1005.90" text-anchor="middle" font-size="49.5">true</text>
<text transform="translate(43.00 504.50) rotate(-90)" text-anchor="middle" font-size="49.5">prediction</text>
<text x="1595.00" y="1005.90" text-anchor="middle" font-size="49.5">true</text>
<text transform="translate(1085.90 504.50) rotate(-90)" text-anchor="middle" font-size="49.5">prediction</text>
<text x="545.00" y="2008.00" text-anchor="middle" font-size="49.5" font-style="italic">u</text>
<text transform="translate(43.00 1513.50) rotate(-90)" text-anchor="middle" font-size="49.5">number of calculation points</text>
<text x="1589.50" y="2008.00" text-anchor="middle" font-size="49.5" font-style="italic">v</text>
<text transform="translate(1085.90 1513.50) rotate(-90)" text-anchor="middle" font-size="49.5">number of calculation points</text>
</svg></body></html>
